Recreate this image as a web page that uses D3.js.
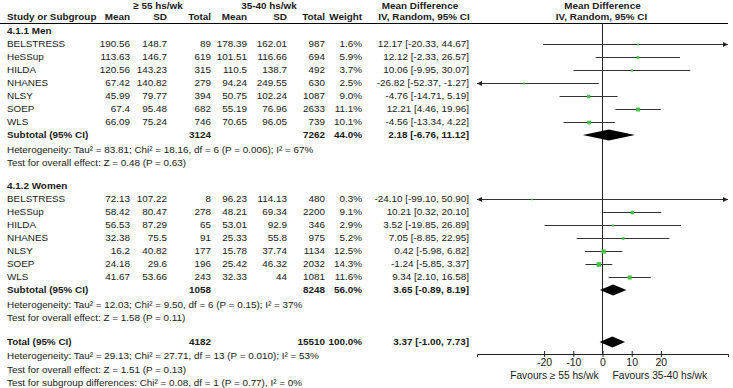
<!DOCTYPE html>
<html><head><meta charset="utf-8">
<script src="https://cdn.jsdelivr.net/npm/d3@7"></script>
<style>
html,body{margin:0;padding:0;background:#fff;}
svg{display:block;font-family:"Liberation Sans",Arial,sans-serif;}
</style></head>
<body><svg id="c" width="733" height="388"></svg>
<script>
// ---------- data ----------
const studies = ["BELSTRESS","HeSSup","HILDA","NHANES","NLSY","SOEP","WLS"];

const menMeanHi = [190.56,113.63,120.56,67.42,45.99,67.4,66.09];
const menSDHi   = [148.7,146.7,143.23,140.82,79.77,95.48,75.24];
const menNHi    = [89,619,315,279,394,682,746];
const menMeanLo = [178.39,101.51,110.5,94.24,50.75,55.19,70.65];
const menSDLo   = [162.01,116.66,138.7,249.55,102.24,76.96,96.05];
const menNLo    = [987,694,492,630,1087,2633,739];
const menWeight = [1.6,5.9,3.7,2.5,9.0,11.1,10.1];
const menMD     = [12.17,12.12,10.06,-26.82,-4.76,12.21,-4.56];
const menCILo   = [-20.33,-2.33,-9.95,-52.37,-14.71,4.46,-13.34];
const menCIHi   = [44.67,26.57,30.07,-1.27,5.19,19.96,4.22];

const womenMeanHi = [72.13,58.42,56.53,32.38,16.2,24.18,41.67];
const womenSDHi   = [107.22,80.47,87.29,75.5,40.82,29.6,53.66];
const womenNHi    = [8,278,65,91,177,196,243];
const womenMeanLo = [96.23,48.21,53.01,25.33,15.78,25.42,32.33];
const womenSDLo   = [114.13,69.34,92.9,55.8,37.74,46.32,44];
const womenNLo    = [480,2200,346,975,1134,2032,1081];
const womenWeight = [0.3,9.1,2.9,5.2,12.5,14.3,11.6];
const womenMD     = [-24.10,10.21,3.52,7.05,0.42,-1.24,9.34];
const womenCILo   = [-99.10,0.32,-19.85,-8.85,-5.98,-5.85,2.10];
const womenCIHi   = [50.90,20.10,26.89,22.95,6.82,3.37,16.58];

const subtotalLabels = ["Subtotal (95% CI)","Subtotal (95% CI)","Total (95% CI)"];
const pooledNHi    = [3124,1058,4182];
const pooledNLo    = [7262,8248,15510];
const pooledWeight = ["44.0%","56.0%","100.0%"];
const pooledMD     = [2.18,3.65,3.37];
const pooledLo     = [-6.76,-0.89,-1.00];
const pooledHi     = [11.12,8.19,7.73];

const menStats = ["Heterogeneity: Tau\u00b2 = 83.81; Chi\u00b2 = 18.16, df = 6 (P = 0.006); I\u00b2 = 67%",
                  "Test for overall effect: Z = 0.48 (P = 0.63)"];
const womenStats = ["Heterogeneity: Tau\u00b2 = 12.03; Chi\u00b2 = 9.50, df = 6 (P = 0.15); I\u00b2 = 37%",
                    "Test for overall effect: Z = 1.58 (P = 0.11)"];
const totalStats = ["Heterogeneity: Tau\u00b2 = 29.13; Chi\u00b2 = 27.71, df = 13 (P = 0.010); I\u00b2 = 53%",
                    "Test for overall effect: Z = 1.51 (P = 0.13)",
                    "Test for subgroup differences: Chi\u00b2 = 0.08, df = 1 (P = 0.77), I\u00b2 = 0%"];
const groupTitles = ["4.1.1 Men","4.1.2 Women"];
const tickValues = [-20,-10,0,10,20];
const favoursLeft = "Favours \u2265 55 hs/wk";
const favoursRight = "Favours 35-40 hs/wk";

// ---------- layout ----------
const svg = d3.select("#c");
const FS = 9.9;
const txt = "#1a1a1a";
const x = d3.scaleLinear().domain([-43,43]).range([477,728]);
const axisY = 354;
const colRight = {m1:130, s1:167, n1:211, m2:247, s2:287, n2:325, w:362, ci:469};

function text(xp, yp, s, opt={}) {
  return svg.append("text").attr("x",xp).attr("y",yp).attr("dy","0.35em")
    .attr("font-size",opt.size||FS).attr("font-weight",opt.bold?"bold":"normal")
    .attr("text-anchor",opt.anchor||"start").attr("fill",txt).text(s);
}

// headers
text(158,6,"\u2265 55 hs/wk",{bold:true,anchor:"middle"});
text(269,6,"35-40 hs/wk",{bold:true,anchor:"middle"});
text(7,17,"Study or Subgroup",{bold:true});
[["Mean",colRight.m1],["SD",colRight.s1],["Total",colRight.n1],["Mean",colRight.m2],["SD",colRight.s2],["Total",colRight.n2],["Weight",colRight.w]]
  .forEach(([s,xx])=>text(xx,17,s,{bold:true,anchor:"end"}));
text(420,6,"Mean Difference",{bold:true,anchor:"middle"});
text(424,17,"IV, Random, 95% CI",{bold:true,anchor:"middle"});
text(x(0),6,"Mean Difference",{bold:true,anchor:"middle"});
text(x(0)-1,17,"IV, Random, 95% CI",{bold:true,anchor:"middle"});
svg.append("line").attr("x1",0).attr("x2",728).attr("y1",23.5).attr("y2",23.5).attr("stroke","#000").attr("stroke-width",1);

// zero line
svg.append("line").attr("x1",x(0)).attr("x2",x(0)).attr("y1",23.5).attr("y2",axisY).attr("stroke","#222").attr("stroke-width",1);

const fmt = v => v.toFixed(2);
const ciStr = (m,l,h) => `${fmt(m)} [${fmt(l)}, ${fmt(h)}]`;

function arrow(xp, yp, dir) {
  svg.append("path").attr("d", dir>0
      ? `M${xp},${yp} L${xp-5},${yp-2.5} L${xp-5},${yp+2.5} Z`
      : `M${xp},${yp} L${xp+5},${yp-2.5} L${xp+5},${yp+2.5} Z`)
    .attr("fill","#222");
}

function diamond(yp, m, l, h) {
  svg.append("path").attr("d",`M${x(l)},${yp} L${x(m)},${yp-5.5} L${x(h)},${yp} L${x(m)},${yp+5.5} Z`).attr("fill","#000");
}

function group(yStart, title, d, stats, pi) {
  text(7, yStart, title, {bold:true});
  studies.forEach((s,i)=>{
    const y = yStart + 13*(i+1);
    text(7,y,s);
    text(colRight.m1,y,String(d.mh[i]),{anchor:"end"});
    text(colRight.s1,y,String(d.sh[i]),{anchor:"end"});
    text(colRight.n1,y,String(d.nh[i]),{anchor:"end"});
    text(colRight.m2,y,String(d.ml[i]),{anchor:"end"});
    text(colRight.s2,y,String(d.sl[i]),{anchor:"end"});
    text(colRight.n2,y,String(d.nl[i]),{anchor:"end"});
    text(colRight.w,y,d.w[i].toFixed(1)+"%",{anchor:"end"});
    text(colRight.ci,y,ciStr(d.md[i],d.lo[i],d.hi[i]),{anchor:"end"});
    const [dmin,dmax] = x.domain();
    const l = Math.max(d.lo[i],dmin), h = Math.min(d.hi[i],dmax);
    svg.append("line").attr("x1",x(l)).attr("x2",x(h)).attr("y1",y+0.5).attr("y2",y+0.5).attr("stroke","#333").attr("stroke-width",1);
    if (d.hi[i]>dmax) arrow(x(dmax),y+0.5,1);
    if (d.lo[i]<dmin) arrow(x(dmin),y+0.5,-1);
    const sz = 1.5 + d.w[i]*0.22;
    svg.append("rect").attr("x",x(d.md[i])-sz/2).attr("y",y+0.5-sz/2).attr("width",sz).attr("height",sz).attr("fill","#44c444");
  });
  const ys = yStart + 13*8;
  text(7,ys,subtotalLabels[pi],{bold:true});
  text(colRight.n1,ys,String(pooledNHi[pi]),{bold:true,anchor:"end"});
  text(colRight.n2,ys,String(pooledNLo[pi]),{bold:true,anchor:"end"});
  text(colRight.w,ys,pooledWeight[pi],{bold:true,anchor:"end"});
  text(colRight.ci,ys,ciStr(pooledMD[pi],pooledLo[pi],pooledHi[pi]),{bold:true,anchor:"end"});
  diamond(ys, pooledMD[pi], pooledLo[pi], pooledHi[pi]);
  text(7,ys+14.5,stats[0]);
  text(7,ys+27.5,stats[1]);
}

group(31, groupTitles[0], {mh:menMeanHi,sh:menSDHi,nh:menNHi,ml:menMeanLo,sl:menSDLo,nl:menNLo,w:menWeight,md:menMD,lo:menCILo,hi:menCIHi}, menStats, 0);
group(186, groupTitles[1], {mh:womenMeanHi,sh:womenSDHi,nh:womenNHi,ml:womenMeanLo,sl:womenSDLo,nl:womenNLo,w:womenWeight,md:womenMD,lo:womenCILo,hi:womenCIHi}, womenStats, 1);

// total
const yt = 342;
text(7,yt,subtotalLabels[2],{bold:true});
text(colRight.n1,yt,String(pooledNHi[2]),{bold:true,anchor:"end"});
text(colRight.n2,yt,String(pooledNLo[2]),{bold:true,anchor:"end"});
text(colRight.w,yt,pooledWeight[2],{bold:true,anchor:"end"});
text(colRight.ci,yt,ciStr(pooledMD[2],pooledLo[2],pooledHi[2]),{bold:true,anchor:"end"});
diamond(yt, pooledMD[2], pooledLo[2], pooledHi[2]);
totalStats.forEach((s,i)=>text(7,yt+14+13.3*i,s));

// axis
const ax = svg.append("g").attr("transform",`translate(0,${axisY})`)
  .call(d3.axisBottom(x).tickValues(tickValues).tickFormat(d=>String(d)).tickSizeOuter(0).tickSize(3).tickPadding(1.5));
ax.select(".domain").attr("stroke","#222");
ax.selectAll(".tick line").attr("y1",-3).attr("y2",3).attr("stroke","#222");
ax.selectAll(".tick text").attr("font-size",10.5).attr("fill",txt).attr("font-family","Liberation Sans, Arial, sans-serif");
text(x(0)-4,375.5,favoursLeft,{anchor:"end",size:10.2});
text(x(0)+10,375.5,favoursRight,{anchor:"start",size:10.2});
</script></body></html>
